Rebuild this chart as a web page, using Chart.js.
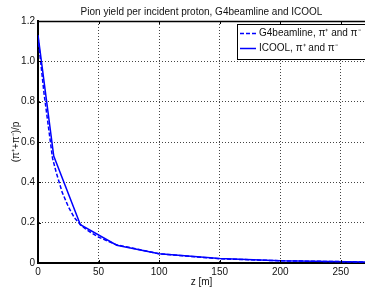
<!DOCTYPE html>
<html>
<head>
<meta charset="utf-8">
<script src="https://cdn.jsdelivr.net/npm/chart.js@4/dist/chart.umd.min.js"></script>
<style>
html,body{margin:0;padding:0;background:#fff;}
#wrap{width:365px;height:289px;position:relative;}
</style>
</head>
<body>
<div id="wrap"><canvas id="c" width="365" height="289"></canvas></div>
<script>
const chartTitle = "Pion yield per incident proton, G4beamline and ICOOL";
const xTitle = "z [m]";
const yTitle = "(\u03C0\u207A+\u03C0\u207B)/p";
const seriesLabels = ["G4beamline, \u03C0\u207A and \u03C0\u207B", "ICOOL, \u03C0\u207A and \u03C0\u207B"];

const zG4 =     [0,    5,    12,   15,   20,   25,   30,   35,   40,   50,    65,   100,   150,   200,   270];
const yieldG4 = [1.12, 0.84, 0.52, 0.45, 0.35, 0.28, 0.225,0.19, 0.165,0.128, 0.09, 0.046, 0.021, 0.011, 0.005];

const zICOOL =     [0,    13,   35,   65,    100,   150,   200,   270];
const yieldICOOL = [1.13, 0.53, 0.19, 0.088, 0.046, 0.022, 0.011, 0.005];

const xTicks = [0, 50, 100, 150, 200, 250];
const yTicks = [0, 0.2, 0.4, 0.6, 0.8, 1, 1.2];

const FONT = "'Liberation Sans', Arial, Helvetica, sans-serif";

const toPts = (xs, ys) => xs.map((x, i) => ({x: x, y: ys[i]}));

const framePlugin = {
  id: 'frame',
  afterDraw(chart) {
    const {ctx, chartArea: a} = chart;
    const xs = chart.scales.x, ys = chart.scales.y;
    ctx.save();
    ctx.strokeStyle = '#000';
    ctx.lineWidth = 1.5;
    ctx.beginPath();
    ctx.moveTo(a.left, a.top + 0.5);
    ctx.lineTo(a.right, a.top + 0.5);
    ctx.stroke();
    // inward tick marks
    ctx.lineWidth = 1;
    ctx.beginPath();
    xTicks.forEach(v => {
      const px = Math.round(xs.getPixelForValue(v)) + 0.5;
      ctx.moveTo(px, a.top); ctx.lineTo(px, a.top + 3);
      ctx.moveTo(px, a.bottom); ctx.lineTo(px, a.bottom - 3);
    });
    yTicks.forEach(v => {
      const py = Math.round(ys.getPixelForValue(v)) + 0.5;
      ctx.moveTo(a.left, py); ctx.lineTo(a.left + 3, py);
    });
    ctx.stroke();
    // title centered over plot area
    ctx.fillStyle = '#111';
    ctx.font = "10px " + FONT;
    ctx.textAlign = 'center';
    ctx.textBaseline = 'middle';
    ctx.fillText(chartTitle, (a.left + a.right) / 2, 12);
    // legend
    const bx = 237, by = 24, bw = 140, bh = 35;
    ctx.fillStyle = '#fff';
    ctx.fillRect(bx, by, bw, bh);
    ctx.strokeStyle = '#000';
    ctx.lineWidth = 1;
    ctx.strokeRect(bx + 0.5, by + 0.5, bw, bh);
    chart.data.datasets.forEach((ds, i) => {
      const yy = by + 9.5 + i * 15;
      ctx.strokeStyle = ds.borderColor;
      ctx.lineWidth = 1.5;
      ctx.setLineDash(ds.borderDash || []);
      ctx.beginPath();
      ctx.moveTo(bx + 3, yy);
      ctx.lineTo(bx + 19, yy);
      ctx.stroke();
      ctx.setLineDash([]);
      ctx.fillStyle = '#111';
      ctx.textAlign = 'left';
      ctx.fillText(ds.label, bx + 22, yy);
    });
    ctx.restore();
  }
};

new Chart(document.getElementById('c'), {
  type: 'line',
  data: {
    datasets: [
      {label: seriesLabels[0], data: toPts(zG4, yieldG4), borderColor: '#0000ff', borderWidth: 1.5, borderDash: [4, 2], pointRadius: 0, fill: false, tension: 0},
      {label: seriesLabels[1], data: toPts(zICOOL, yieldICOOL), borderColor: '#0000ff', borderWidth: 1.5, pointRadius: 0, fill: false, tension: 0}
    ]
  },
  options: {
    responsive: false,
    animation: false,
    devicePixelRatio: 1,
    layout: {padding: {top: 21, right: 0, left: 0, bottom: 0}},
    plugins: {legend: {display: false}, title: {display: false}, tooltip: {enabled: false}},
    scales: {
      x: {
        type: 'linear', min: 0, max: 270,
        afterFit(s) { s.height = 26; },
        afterBuildTicks(s) { s.ticks = xTicks.map(v => ({value: v})); },
        ticks: {font: {family: FONT, size: 10}, color: '#111', padding: 3, maxRotation: 0, includeBounds: false},
        grid: {color: '#444', lineWidth: 1, drawTicks: false},
        border: {display: true, color: '#000', width: 2, dash: [1, 2]},
        title: {display: true, text: xTitle, font: {family: FONT, size: 10}, color: '#111', padding: {top: 0, bottom: 1}}
      },
      y: {
        type: 'linear', min: 0, max: 1.2,
        afterFit(s) { s.width = 38; },
        afterBuildTicks(s) { s.ticks = yTicks.map(v => ({value: v})); },
        ticks: {font: {family: FONT, size: 10}, color: '#111', padding: 3},
        grid: {color: '#444', lineWidth: 1, drawTicks: false},
        border: {display: true, color: '#000', width: 2, dash: [1, 2]},
        title: {display: true, text: yTitle, font: {family: FONT, size: 10}, color: '#111', padding: {top: 10, bottom: 0}}
      }
    }
  },
  plugins: [framePlugin]
});
</script>
</body>
</html>
